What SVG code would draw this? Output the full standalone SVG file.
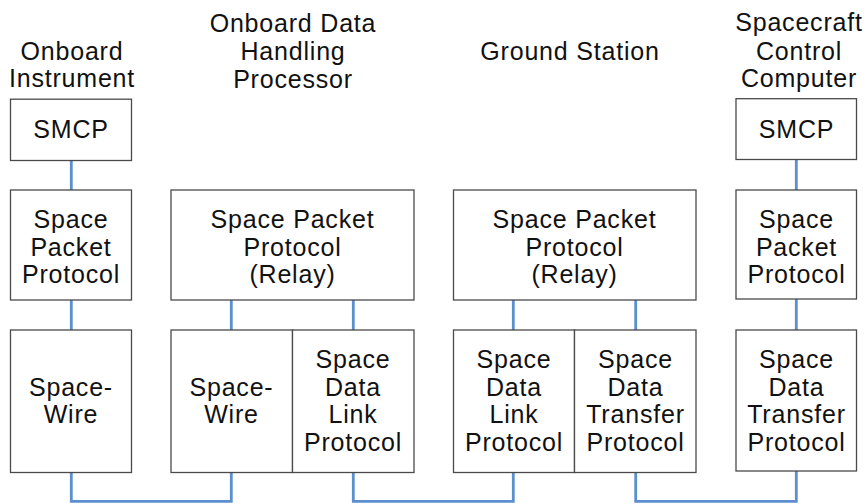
<svg xmlns="http://www.w3.org/2000/svg" width="865" height="504" viewBox="0 0 865 504">
<style>
.box{fill:#fff;stroke:#4a4a4a;stroke-width:1.3}
.t{font-family:"Liberation Sans",Arial,sans-serif;font-size:25px;letter-spacing:0.8px;fill:#111;text-anchor:middle}
.c{fill:none;stroke:#5b8fcf;stroke-width:2.8;stroke-linejoin:miter}
</style>
<rect width="865" height="504" fill="#fff"/>
<g id="headers">
<text class="t" x="72" y="60">Onboard</text>
<text class="t" x="72" y="87">Instrument</text>
<text class="t" x="293" y="32">Onboard Data</text>
<text class="t" x="293" y="60">Handling</text>
<text class="t" x="293" y="88">Processor</text>
<text class="t" x="570" y="60">Ground Station</text>
<text class="t" x="799" y="31">Spacecraft</text>
<text class="t" x="799" y="60">Control</text>
<text class="t" x="799" y="87">Computer</text>
</g>
<g id="connectors">
<line class="c" x1="71.3" y1="160.5" x2="71.3" y2="190"/>
<line class="c" x1="796.3" y1="159.5" x2="796.3" y2="190"/>
<line class="c" x1="71.3" y1="300" x2="71.3" y2="330"/>
<line class="c" x1="231.3" y1="300" x2="231.3" y2="330"/>
<line class="c" x1="353.3" y1="300" x2="353.3" y2="330"/>
<line class="c" x1="513.3" y1="300" x2="513.3" y2="330"/>
<line class="c" x1="635.7" y1="300" x2="635.7" y2="330"/>
<line class="c" x1="796.3" y1="299" x2="796.3" y2="330"/>
<polyline class="c" points="71.3,472.5 71.3,501.3 231.3,501.3 231.3,472.5"/>
<polyline class="c" points="353.3,472.5 353.3,501.3 513.3,501.3 513.3,472.5"/>
<polyline class="c" points="635.7,472.5 635.7,501.3 796.3,501.3 796.3,471"/>
</g>
<g id="smcp-left">
<rect class="box" x="10.5" y="99.2" width="121" height="61.3"/>
<text class="t" x="71" y="138">SMCP</text>
</g>
<g id="spp-left">
<rect class="box" x="10.5" y="190" width="121" height="110"/>
<text class="t" x="71" y="228">Space</text>
<text class="t" x="71" y="256">Packet</text>
<text class="t" x="71" y="283">Protocol</text>
</g>
<g id="spacewire-left">
<rect class="box" x="10.5" y="330" width="121" height="142.5"/>
<text class="t" x="71" y="396">Space-</text>
<text class="t" x="71" y="423">Wire</text>
</g>
<g id="spp-relay-obdh">
<rect class="box" x="171" y="190" width="243" height="110"/>
<text class="t" x="292.5" y="228">Space Packet</text>
<text class="t" x="292.5" y="256">Protocol</text>
<text class="t" x="292.5" y="283">(Relay)</text>
</g>
<g id="spacewire-obdh">
<rect class="box" x="171" y="330" width="121.5" height="142.5"/>
<text class="t" x="231.5" y="396">Space-</text>
<text class="t" x="231.5" y="423">Wire</text>
</g>
<g id="sdlp-obdh">
<rect class="box" x="292.5" y="330" width="121.5" height="142.5"/>
<text class="t" x="353" y="368">Space</text>
<text class="t" x="353" y="396">Data</text>
<text class="t" x="353" y="423">Link</text>
<text class="t" x="353" y="451">Protocol</text>
</g>
<g id="spp-relay-gs">
<rect class="box" x="453.5" y="190" width="242.5" height="110"/>
<text class="t" x="574.5" y="228">Space Packet</text>
<text class="t" x="574.5" y="256">Protocol</text>
<text class="t" x="574.5" y="283">(Relay)</text>
</g>
<g id="sdlp-gs">
<rect class="box" x="453.5" y="330" width="121" height="142.5"/>
<text class="t" x="514" y="368">Space</text>
<text class="t" x="514" y="396">Data</text>
<text class="t" x="514" y="423">Link</text>
<text class="t" x="514" y="451">Protocol</text>
</g>
<g id="sdtp-gs">
<rect class="box" x="574.5" y="330" width="121.5" height="142.5"/>
<text class="t" x="635.5" y="368">Space</text>
<text class="t" x="635.5" y="396">Data</text>
<text class="t" x="635.5" y="423">Transfer</text>
<text class="t" x="635.5" y="451">Protocol</text>
</g>
<g id="smcp-right">
<rect class="box" x="736" y="98.7" width="120.5" height="60.8"/>
<text class="t" x="796.5" y="137.5">SMCP</text>
</g>
<g id="spp-right">
<rect class="box" x="736" y="190" width="120.5" height="109"/>
<text class="t" x="796.5" y="228">Space</text>
<text class="t" x="796.5" y="256">Packet</text>
<text class="t" x="796.5" y="283">Protocol</text>
</g>
<g id="sdtp-right">
<rect class="box" x="736" y="330" width="120.5" height="141"/>
<text class="t" x="796.5" y="368">Space</text>
<text class="t" x="796.5" y="396">Data</text>
<text class="t" x="796.5" y="423">Transfer</text>
<text class="t" x="796.5" y="451">Protocol</text>
</g>
</svg>
